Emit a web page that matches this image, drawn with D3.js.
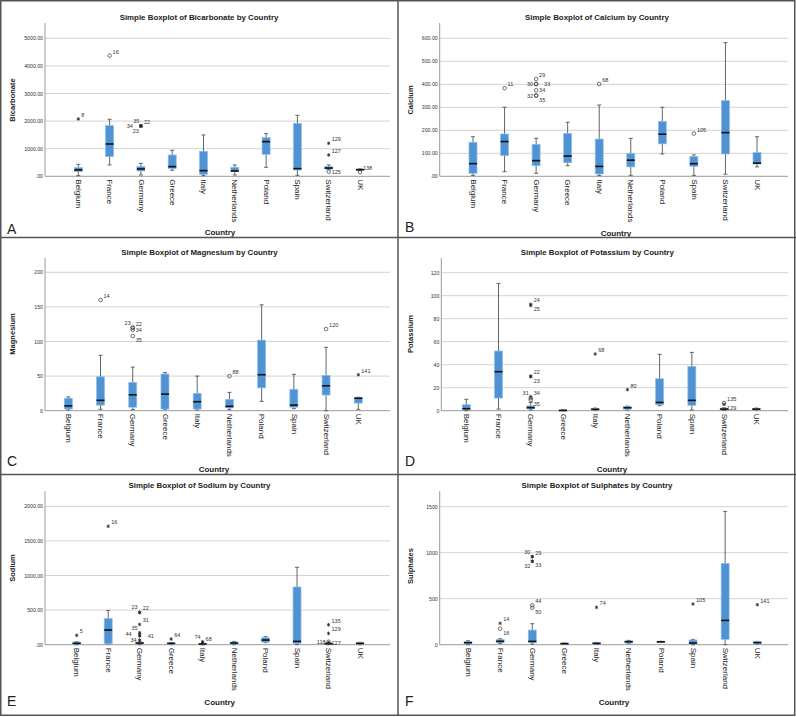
<!DOCTYPE html>
<html><head><meta charset="utf-8">
<script src="https://cdn.jsdelivr.net/npm/d3@7"></script>
<style>
body{margin:0;background:#fff;}
text{font-family:"Liberation Sans",Arial,sans-serif;}
</style></head>
<body><svg id="c" width="796" height="717"></svg>
<script>
const countries = ["Belgium","France","Germany","Greece","Italy","Netherlands","Poland","Spain","Switzerland","UK"];

// [low whisker, Q1, median, Q3, high whisker] per country
const bicarbonateBox = [[24,169,230,314,435],[411,713,1171,1836,2065],[48,193,266,350,471],[217,278,350,773,942],[24,72,205,906,1498],[48,169,193,326,411],[326,797,1256,1401,1546],[36,229,278,1920,2210],[240,262,300,350,411],[200,215,240,255,270]];
const calciumBox = [[4,13,55,148,172],[20,90,151,184,300],[13,46,68,139,165],[46,59,88,187,235],[3,10,43,162,310],[4,41,70,99,165],[97,141,183,239,300],[4,43,55,86,93],[9,97,190,329,581],[41,54,57,103,172]];
const magnesiumBox = [[1,2.4,7,18,20],[2,8,15,49,80],[1.5,5,23,41,63],[1.5,2.4,24,53,55],[1,2.4,13,25,50],[1.5,4,6.3,16.4,26.5],[13.5,33,52,102,153],[3,5,8,31,52.5],[0,22.6,36,51,91.6],[2,11,18,19,19.5]];
const potassiumBox = [[0,0.9,1.7,5.2,9.9],[1.4,11,33.9,51.9,110.7],[0.6,1.7,2.6,4.3,7.2],[0,0.1,0.3,0.5,0.6],[0.3,0.6,1.2,2,2.3],[0.6,1.4,2.6,3.5,4],[4.3,5.2,7.2,27.8,49],[0.6,4.6,9,38.5,50.7],[0.3,0.9,1.4,2.3,2.6],[0.6,0.9,1.4,2,2.3]];
const sodiumBox = [[0,10,19,38,43],[10,14,212,380,495],[0,14,24,34,43],[0,10,19,24,29],[0,5,10,15,20],[0,10,24,38,48],[29,38,67,101,115],[0,19,48,834,1118],[0,10,14,24,29],[0,10,19,29,34]];
const sulphatesBox = [[0,11,22,33,43],[14,25,36,58,65],[7,22,36,159,228],[7,7,11,18,18],[7,7,14,22,25],[11,18,33,40,47],[28,29,32,34,36],[0,11,18,51,58],[0,58,264,884,1449],[7,14,22,33,36]];

// outliers: [country, value, marker ("o" mild, "*" extreme), case label, label side]
const bicarbonateOut = [["Belgium",2077,"*","8","ur"],["France",4372,"o","16","ur"],["Germany",1824,"*","34","ll"],["Germany",1824,"*","35","u"],["Germany",1824,"*","22","ur"],["Germany",1824,"*","23","bl"],["Switzerland",1196,"*","129","ur"],["Switzerland",773,"*","127","ur"],["Switzerland",170,"o","125","r"],["UK",150,"o","138","ur"]];
const calciumOut = [["France",383,"o","11","ur"],["Germany",423,"o","29","ur"],["Germany",401,"o","30","l"],["Germany",401,"o","33","rr"],["Germany",374,"o","34","r"],["Germany",351,"o","32","l"],["Germany",351,"o","35","br"],["Italy",401,"o","68","ur"],["Spain",186,"o","105","ur"]];
const magnesiumOut = [["France",160,"o","14","ur"],["Germany",120,"o","23","ul"],["Germany",120,"o","22","ur"],["Germany",117,"o","34","r"],["Germany",108,"o","35","br"],["Netherlands",50,"o","88","ur"],["Switzerland",118,"o","120","ur"],["UK",52,"*","141","ur"]];
const potassiumOut = [["Germany",92.5,"*","24","ur"],["Germany",91.5,"*","25","br"],["Germany",30.1,"*","22","ur"],["Germany",29.5,"*","23","br"],["Germany",12.2,"*","34","ur"],["Germany",11,"o","31","ul"],["Germany",9.3,"o","35","br"],["Italy",49.3,"*","68","ur"],["Netherlands",18.3,"*","80","ur"],["Switzerland",6.7,"o","135","ur"],["Switzerland",5.5,"*","129","br"]];
const sodiumOut = [["Belgium",135,"*","5","ur"],["France",1711,"*","16","ur"],["Germany",466,"*","23","ul"],["Germany",466,"*","22","ur"],["Germany",293,"*","31","ur"],["Germany",173,"*","35","ul"],["Germany",149,"*","44","ll"],["Germany",125,"*","41","rr"],["Germany",67,"*","34","l"],["Greece",82,"*","64","ur"],["Italy",43,"*","74","ul"],["Italy",29,"*","68","ur"],["Switzerland",288,"*","135","ur"],["Switzerland",163,"*","129","ur"],["Switzerland",43,"o","118","l"],["Switzerland",29,"*","127","r"]];
const sulphatesOut = [["France",232,"*","14","ur"],["France",174,"o","16","br"],["Germany",957,"*","30","ul"],["Germany",957,"*","29","ur"],["Germany",906,"*","32","bl"],["Germany",906,"*","33","br"],["Germany",428,"o","44","ur"],["Germany",402,"o","50","br"],["Italy",406,"*","74","ur"],["Spain",442,"*","105","ur"],["UK",435,"*","141","ur"]];

const bicarbonateTicks = [0,1000,2000,3000,4000,5000];
const calciumTicks = [0,100,200,300,400,500,600];
const magnesiumTicks = [0,50,100,150,200];
const potassiumTicks = [0,20,40,60,80,100,120];
const sodiumTicks = [0,500,1000,1500,2000];
const sulphatesTicks = [0,500,1000,1500];

const decFmt = v => v === 0 ? ".00" : v.toFixed(2);
const intFmt = v => String(v);

const panels = [
 {letter:"A", name:"Bicarbonate", box:bicarbonateBox, out:bicarbonateOut, ticks:bicarbonateTicks, fmt:decFmt,
  L:{axisX:45, zeroY:176.3, maxTickY:38.3, topY:23, rightX:390, c0:78.3, c1:360, titleX:199, titleY:20, xtX:220, xtY:235, lX:7, lY:234, ytX:12, ytY:100}},
 {letter:"B", name:"Calcium", box:calciumBox, out:calciumOut, ticks:calciumTicks, fmt:decFmt,
  L:{axisX:439.7, zeroY:176.3, maxTickY:38.3, topY:23, rightX:788, c0:473, c1:757, titleX:597, titleY:20, xtX:616, xtY:236, lX:405, lY:232, ytX:410, ytY:100}},
 {letter:"C", name:"Magnesium", box:magnesiumBox, out:magnesiumOut, ticks:magnesiumTicks, fmt:intFmt,
  L:{axisX:45, zeroY:410.7, maxTickY:272.3, topY:258, rightX:390, c0:68.3, c1:358.3, titleX:199.5, titleY:254.5, xtX:214, xtY:471.5, lX:7, lY:466, ytX:12, ytY:334}},
 {letter:"D", name:"Potassium", box:potassiumBox, out:potassiumOut, ticks:potassiumTicks, fmt:intFmt,
  L:{axisX:441.3, zeroY:410.7, maxTickY:272.7, topY:258, rightX:788, c0:466.3, c1:756.3, titleX:597.3, titleY:254.5, xtX:612, xtY:471.5, lX:405, lY:466, ytX:410, ytY:334}},
 {letter:"E", name:"Sodium", box:sodiumBox, out:sodiumOut, ticks:sodiumTicks, fmt:decFmt,
  L:{axisX:45, zeroY:644.7, maxTickY:506.3, topY:491.3, rightX:390, c0:76.7, c1:360, titleX:199.5, titleY:488.3, xtX:219.7, xtY:705, lX:7, lY:706, ytX:12, ytY:568}},
 {letter:"F", name:"Sulphates", box:sulphatesBox, out:sulphatesOut, ticks:sulphatesTicks, fmt:intFmt,
  L:{axisX:439.7, zeroY:644.7, maxTickY:506.7, topY:491.3, rightX:788, c0:468, c1:757.3, titleX:597, titleY:488.3, xtX:614, xtY:705, lX:405, lY:706, ytX:410, ytY:566}}
];

const svg = d3.select("#c");
svg.append("rect").attr("x",0).attr("y",0).attr("width",796).attr("height",717).attr("fill","#fff");

const labelPos = {
  ur:[3,-2,"start"], r:[3,2,"start"], rr:[8,2,"start"], br:[3,6,"start"],
  u:[-1.5,-2.5,"end"], ul:[-2,-3,"end"], l:[-3,2,"end"], ll:[-8,2,"end"], bl:[-2,7,"end"]
};

panels.forEach(p => {
  const L = p.L;
  const g = svg.append("g");
  const maxT = p.ticks[p.ticks.length-1];
  const y = d3.scaleLinear().domain([0, maxT]).range([L.zeroY, L.maxTickY]);
  const x = d3.scalePoint().domain(countries).range([L.c0, L.c1]);

  // gridlines
  g.selectAll("line.grid").data(p.ticks.filter(t => t > 0)).join("line")
    .attr("x1", L.axisX).attr("x2", L.rightX)
    .attr("y1", d => y(d)).attr("y2", d => y(d))
    .attr("stroke", "#d3d3d3").attr("stroke-width", 1);

  // y axis
  const ya = g.append("g").attr("transform", `translate(${L.axisX},0)`)
    .call(d3.axisLeft(y).tickValues(p.ticks).tickFormat(p.fmt).tickSize(0).tickPadding(2));
  ya.select(".domain").remove();
  ya.selectAll("text").attr("font-size", 5.2).attr("fill", "#333").style("font-family", "Liberation Sans, Arial");
  g.append("line").attr("x1", L.axisX).attr("x2", L.axisX).attr("y1", L.topY).attr("y2", L.zeroY)
    .attr("stroke", "#9a9a9a").attr("stroke-width", 1);

  // x axis
  const xa = g.append("g").attr("transform", `translate(0,${L.zeroY})`)
    .call(d3.axisBottom(x).tickSize(0));
  xa.select(".domain").remove();
  xa.selectAll("text")
    .attr("transform", "rotate(90)")
    .attr("x", 3).attr("y", 0).attr("dy", "0.35em")
    .attr("text-anchor", "start")
    .attr("font-size", 8).attr("fill", "#222").style("font-family", "Liberation Sans, Arial");
  g.append("line").attr("x1", L.axisX).attr("x2", L.rightX).attr("y1", L.zeroY).attr("y2", L.zeroY)
    .attr("stroke", "#9a9a9a").attr("stroke-width", 1);

  // boxes
  const bw = 8, cw = 4;
  const bx = g.selectAll("g.bx").data(p.box.map((b, i) => ({c: countries[i], b}))).join("g");
  bx.append("line").attr("x1", d => x(d.c)).attr("x2", d => x(d.c))
    .attr("y1", d => y(d.b[4])).attr("y2", d => y(d.b[0])).attr("stroke", "#555").attr("stroke-width", 0.9);
  bx.append("line").attr("x1", d => x(d.c) - cw/2).attr("x2", d => x(d.c) + cw/2)
    .attr("y1", d => y(d.b[4])).attr("y2", d => y(d.b[4])).attr("stroke", "#555").attr("stroke-width", 0.9);
  bx.append("line").attr("x1", d => x(d.c) - cw/2).attr("x2", d => x(d.c) + cw/2)
    .attr("y1", d => y(d.b[0])).attr("y2", d => y(d.b[0])).attr("stroke", "#555").attr("stroke-width", 0.9);
  bx.append("rect").attr("x", d => x(d.c) - bw/2).attr("width", bw)
    .attr("y", d => y(d.b[3])).attr("height", d => Math.max(1.2, y(d.b[1]) - y(d.b[3])))
    .attr("fill", "#4f93d5").attr("stroke", "#8ebfe9").attr("stroke-width", 0.7);
  bx.append("line").attr("x1", d => x(d.c) - bw/2).attr("x2", d => x(d.c) + bw/2)
    .attr("y1", d => y(d.b[2])).attr("y2", d => y(d.b[2])).attr("stroke", "#111").attr("stroke-width", 1.6);

  // outliers
  const og = g.selectAll("g.out").data(p.out).join("g")
    .attr("transform", d => `translate(${x(d[0])},${y(d[1])})`);
  og.filter(d => d[2] === "o").append("circle").attr("r", 1.8)
    .attr("fill", "none").attr("stroke", "#333").attr("stroke-width", 0.7);
  og.filter(d => d[2] === "*").append("path").attr("d", d3.symbol(d3.symbolAsterisk, 9))
    .attr("fill", "none").attr("stroke", "#222").attr("stroke-width", 0.8);
  og.append("text").text(d => d[3])
    .attr("x", d => labelPos[d[4]][0]).attr("y", d => labelPos[d[4]][1])
    .attr("text-anchor", d => labelPos[d[4]][2])
    .attr("font-size", 5.5).attr("fill", "#333");

  // titles
  g.append("text").attr("x", L.titleX).attr("y", L.titleY).attr("text-anchor", "middle")
    .attr("font-size", 7.9).attr("font-weight", "bold").attr("fill", "#222")
    .text(`Simple Boxplot of ${p.name} by Country`);
  g.append("text").attr("transform", `translate(${L.ytX + 2.5},${L.ytY}) rotate(-90)`)
    .attr("text-anchor", "middle").attr("font-size", 7.5).attr("font-weight", "bold").attr("fill", "#222")
    .text(p.name);
  g.append("text").attr("x", L.xtX).attr("y", L.xtY).attr("text-anchor", "middle")
    .attr("font-size", 8).attr("font-weight", "bold").attr("fill", "#222").text("Country");
  g.append("text").attr("x", L.lX).attr("y", L.lY)
    .attr("font-size", 14).attr("fill", "#222").text(p.letter);
});

// frame and separators
const fr = svg.append("g").attr("stroke", "#555").attr("fill", "none");
fr.append("rect").attr("x", 0.75).attr("y", 0.75).attr("width", 794).attr("height", 714.5).attr("stroke-width", 1.5);
fr.append("line").attr("x1", 398).attr("x2", 398).attr("y1", 0).attr("y2", 716).attr("stroke-width", 1.5);
fr.append("line").attr("x1", 0).attr("x2", 796).attr("y1", 237.5).attr("y2", 237.5).attr("stroke-width", 1.5);
fr.append("line").attr("x1", 0).attr("x2", 796).attr("y1", 474.5).attr("y2", 474.5).attr("stroke-width", 1.5);
</script></body></html>
